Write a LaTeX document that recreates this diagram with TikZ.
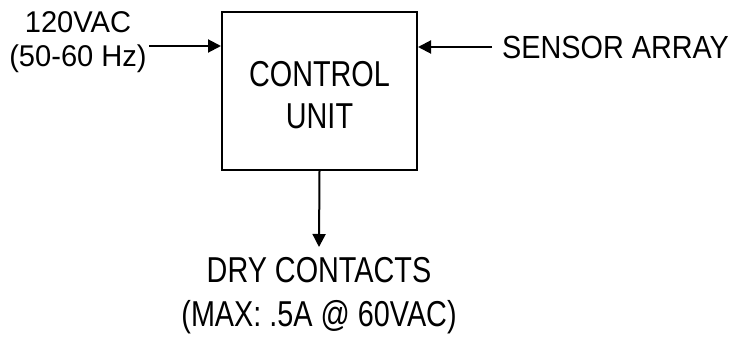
\documentclass[tikz,border=0pt]{standalone}
\usepackage{fontspec}
\setmainfont{Liberation Sans}[FakeStretch=0.97]
\newfontfamily\narrowfont{Liberation Sans}[FakeStretch=0.8]
\newfontfamily\sensorfont{Liberation Sans}[FakeStretch=0.9]
\usetikzlibrary{arrows.meta, positioning}
\tikzset{
  blockbox/.style={draw, line width=2pt, minimum width=195pt, minimum height=158pt,
    align=center, font=\narrowfont\fontsize{36}{42}\selectfont},
  sigtext/.style={align=center, inner sep=0pt},
  sigarrow/.style={line width=2pt, -{Triangle[length=13pt,width=13pt]}}
}

\begin{document}
\begin{tikzpicture}[x=1pt, y=-1pt]
  \useasboundingbox (0,0) rectangle (733,339);
  \node[blockbox, text height=75pt, text depth=0pt] (ctrl) at (319.5,91) {CONTROL\\UNIT};
  \node[sigtext, font=\fontsize{30}{34}\selectfont] (ac) at (78,42) {120VAC\\(50-60 Hz)};
  \node[sigtext, font=\sensorfont\fontsize{32}{34}\selectfont, anchor=west] (sens) at (502,47) {SENSOR ARRAY};
  \node[sigtext, font=\narrowfont\fontsize{36}{44}\selectfont, anchor=north, inner ysep=10pt]
    (dry) at (319,247) {DRY CONTACTS\\(MAX: .5A @ 60VAC)};
  \coordinate (acend) at (149,46);
  \coordinate (sensend) at (492,47);
  \draw[sigarrow] (acend) -- (ctrl.west |- acend);
  \draw[sigarrow] (sensend) -- (ctrl.east |- sensend);
  \draw[sigarrow] (ctrl.south) -- (dry.north);
\end{tikzpicture}
\end{document}
